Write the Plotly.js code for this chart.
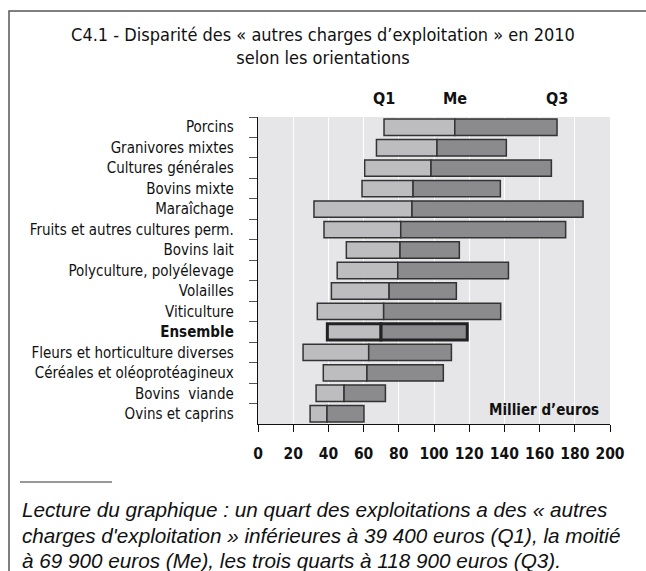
<!DOCTYPE html>
<html><head><meta charset="utf-8">
<script src="https://cdn.plot.ly/plotly-3.0.1.min.js"></script>
<style>body{margin:0;background:#fff}#c{width:646px;height:571px}</style>
</head><body><div id="c"></div>
<script>
const categories = ["Porcins","Granivores mixtes","Cultures générales","Bovins mixte","Maraîchage","Fruits et autres cultures perm.","Bovins lait","Polyculture, polyélevage","Volailles","Viticulture","<b>Ensemble</b>","Fleurs et horticulture diverses","Céréales et oléoprotéagineux","Bovins  viande","Ovins et caprins"];
const q1 = [71.6, 67.3, 60.6, 59.1, 31.8, 37.5, 50.2, 45.0, 41.7, 33.7, 39.4, 25.6, 37.1, 33.0, 29.6];
const me = [111.8, 101.7, 98.3, 88.1, 87.5, 81.1, 80.7, 79.4, 74.5, 71.4, 69.9, 62.9, 61.9, 48.9, 39.2];
const q3 = [169.9, 141.1, 166.7, 137.7, 184.7, 174.8, 114.4, 142.3, 112.7, 137.9, 118.9, 109.9, 105.3, 72.4, 60.2];
const xTicks = [0,20,40,60,80,100,120,140,160,180,200];

const lw = categories.map(c => c.indexOf("Ensemble")>=0 ? 3 : 1.5);
const lc = categories.map(c => c.indexOf("Ensemble")>=0 ? "#222" : "#333");
const narrow = "DejaVu Sans Condensed, Liberation Sans Narrow, Arial Narrow, sans-serif";

const traces = [
 {type:"bar", orientation:"h", y:categories, base:q1, x:q1.map((v,i)=>me[i]-v), width:0.8,
  marker:{color:"#bdbdc0", line:{color:lc, width:lw}}, hoverinfo:"skip"},
 {type:"bar", orientation:"h", y:categories, base:me, x:me.map((v,i)=>q3[i]-v), width:0.8,
  marker:{color:"#8b8b8e", line:{color:lc, width:lw}}, hoverinfo:"skip"}
];

const ann = [
 {text:"Q1", x:q1[0], y:(424-98)/307},
 {text:"Me", x:me[0], y:(424-98)/307},
 {text:"Q3", x:q3[0], y:(424-98)/307}
].map(a=>Object.assign(a,{xref:"x", yref:"paper", xanchor:"center", yanchor:"middle", showarrow:false, font:{family:narrow, size:16, color:"#111", weight:700}}));
ann.push({text:"Millier d’euros", xref:"paper", yref:"paper", x:(601-258)/352, y:(424-410)/307, xanchor:"right", yanchor:"middle", showarrow:false, font:{family:narrow, size:15, color:"#111", weight:700}});
const foot = ["Lecture du graphique : un quart des exploitations a des « autres",
 "charges d'exploitation » inférieures à 39 400 euros (Q1), la moitié",
 "à 69 900 euros (Me), les trois quarts à 118 900 euros (Q3)."];
const footY = [509, 535, 560];
foot.forEach((t,i)=>ann.push({text:t, xref:"paper", yref:"paper", x:(20-258)/352, y:(424-footY[i])/307, xanchor:"left", yanchor:"middle", showarrow:false, font:{family:"Liberation Sans, Arial, sans-serif", size:20.7, color:"#111", style:"italic"}}));

const layout = {
 width:646, height:571, paper_bgcolor:"#fff", plot_bgcolor:"#e6e6e8",
 margin:{l:258, r:36, t:117, b:147},
 barmode:"overlay", showlegend:false,
 title:{text:"C4.1 - Disparité des « autres charges d’exploitation » en 2010<br>selon les orientations", x:0.5, xref:"container", xanchor:"center", y:1-41/571, yref:"container", yanchor:"top", font:{family:narrow, size:18, color:"#111"}},
 xaxis:{range:[0,200], tickvals:xTicks, showgrid:true, gridcolor:"#fff", gridwidth:1, zeroline:false,
  showline:true, linecolor:"#111", linewidth:1.2, ticks:"outside", ticklen:7, tickcolor:"#111", ticklabelstandoff:8,
  tickfont:{family:narrow, size:15.5, color:"#111", weight:700}, fixedrange:true},
 yaxis:{type:"category", categoryorder:"array", categoryarray:categories, autorange:"reversed",
  showline:true, linecolor:"#111", linewidth:1.2, ticks:"outside", ticklen:8, tickcolor:"#555", tickson:"boundaries",
  showgrid:false, ticklabelstandoff:20, tickfont:{family:narrow, size:15, color:"#111"}, fixedrange:true},
 annotations:ann,
 shapes:[
  {type:"path", xref:"paper", yref:"paper", path:`M ${(9-258)/352},-2 L ${(9-258)/352},${(424-11)/307} L 2,${(424-11)/307}`, line:{color:"#555", width:1.5}},
  {type:"line", xref:"paper", yref:"paper", x0:(20-258)/352, x1:(112-258)/352, y0:(424-482)/307, y1:(424-482)/307, line:{color:"#333", width:1}}
 ]
};
Plotly.newPlot("c", traces, layout, {displayModeBar:false, staticPlot:true});
</script></body></html>
